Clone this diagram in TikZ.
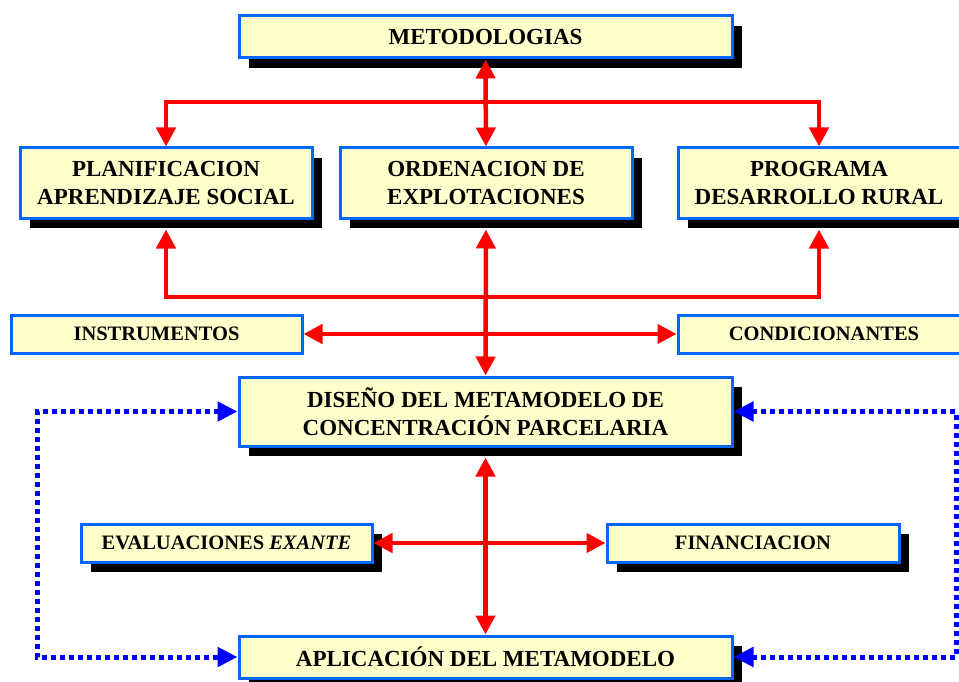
\documentclass[tikz,border=0pt]{standalone}
\usepackage{fontspec}
\setmainfont{Liberation Serif}
\usetikzlibrary{arrows.meta, shadows}
\definecolor{boxblue}{RGB}{0,102,255}
\definecolor{boxfill}{RGB}{255,255,204}
\definecolor{linkblue}{RGB}{0,0,255}
\tikzset{
    flatblock/.style={
        rectangle,
        draw=boxblue,
        line width=3pt,
        fill=boxfill,
        inner sep=0pt,
        align=center,
        minimum height=38pt,
        font=\bfseries\fontsize{20.5}{24}\selectfont
    },
    block/.style={
        flatblock,
        font=\bfseries\fontsize{23}{28}\selectfont,
        drop shadow={shadow xshift=10pt, shadow yshift=-10pt, fill=black, opacity=1}
    },
    smallblock/.style={
        flatblock,
        drop shadow={shadow xshift=10pt, shadow yshift=-10pt, fill=black, opacity=1}
    },
    redarrow/.style={
        draw=red, line width=4.5pt, >={Triangle[width=19pt,length=19pt]}
    },
    bluearrow/.style={
        draw=linkblue, line width=5pt, dash pattern=on 5pt off 4pt,
        >={Triangle[width=19pt,length=20pt]}
    }
}

\begin{document}
\begin{tikzpicture}[x=1pt, y=-1pt]
\useasboundingbox (0,0) rectangle (959,682);

% top level
\node (meto) [block, minimum width=493pt, minimum height=42pt] at (485.5,37) {METODOLOGIAS};
\node (plan) [block, minimum width=292pt, minimum height=70pt] at (166,183) {PLANIFICACION\\APRENDIZAJE SOCIAL};
\node (orde) [block, minimum width=292pt, minimum height=70pt] at (486,183) {ORDENACION DE\\EXPLOTACIONES};
\node (prog) [block, minimum width=282pt, minimum height=70pt] at (819,183) {PROGRAMA\\DESARROLLO RURAL};

% middle level
\node (inst) [flatblock, minimum width=291pt] at (156.5,334) {INSTRUMENTOS};
\node (cond) [flatblock, minimum width=292pt] at (824,334) {CONDICIONANTES};
\node (dise) [block, minimum width=493pt, minimum height=69pt] at (485.5,411.5) {DISEÑO DEL METAMODELO DE\\CONCENTRACIÓN PARCELARIA};

% bottom level
\node (eval) [smallblock, minimum width=291pt] at (226.5,543) {EVALUACIONES \textit{EXANTE}};
\node (fina) [smallblock, minimum width=292pt] at (753,543) {FINANCIACION};
\node (apli) [block, minimum width=493pt, minimum height=42pt] at (485.5,657) {APLICACIÓN DEL METAMODELO};

\coordinate (topbar) at (486,102);
\coordinate (midbar) at (486,297);
\coordinate (lefttop) at (37,411.5);
\coordinate (leftbot) at (37,657);
\coordinate (righttop) at (956,411.5);
\coordinate (rightbot) at (956,657);

% red connectors
\draw [redarrow, <->] (meto) -- (orde);
\draw [redarrow, ->] (topbar) -| (plan);
\draw [redarrow, ->] (topbar) -| (prog);
\draw [redarrow, ->, shorten >=10pt] (midbar) -| (plan);
\draw [redarrow, ->, shorten >=10pt] (midbar) -| (prog);
\draw [redarrow, <->, shorten <=10pt] (orde) -- (dise);
\draw [redarrow, <->] (inst) -- (cond);
\draw [redarrow, <->, shorten <=10pt] (dise) -- (apli);
\draw [redarrow, <->] (eval) -- (fina);

% blue dotted connectors
\draw [bluearrow, <->] (dise.west) -- (lefttop) -- (leftbot) -- (apli.west);
\draw [bluearrow, <->] (dise.east) -- (righttop) -- (rightbot) -- (apli.east);

\end{tikzpicture}
\end{document}
